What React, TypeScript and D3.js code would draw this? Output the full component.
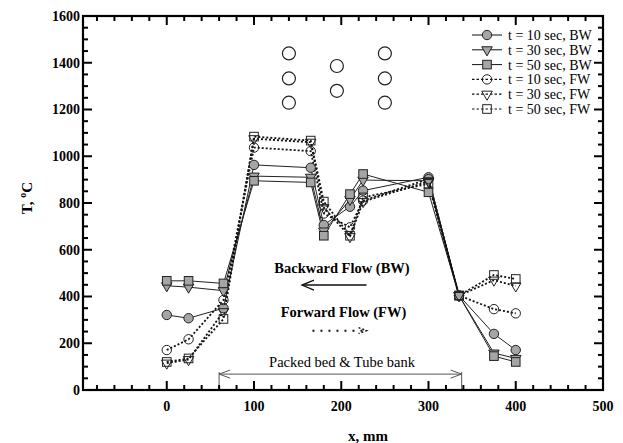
import * as d3 from 'd3'

// x positions of the thermocouples (mm)
const xPos = [0, 25, 65, 100, 165, 180, 210, 225, 300, 335, 375, 400]

// temperatures (deg C)
const bw10 = [321, 307, 350, 963, 951, 706, 784, 853, 910, 404, 240, 171]
const bw30 = [446, 440, 425, 915, 910, 680, 815, 898, 895, 404, 158, 135]
const bw50 = [467, 467, 456, 895, 888, 660, 838, 924, 846, 404, 145, 120]
const fw10 = [171, 217, 385, 1037, 1022, 755, 696, 810, 902, 404, 346, 328]
const fw30 = [115, 130, 335, 1075, 1060, 780, 656, 806, 892, 404, 470, 445]
const fw50 = [120, 135, 304, 1084, 1067, 806, 660, 824, 882, 404, 492, 475]

const seriesNames = [
  't = 10 sec, BW', 't = 30 sec, BW', 't = 50 sec, BW',
  't = 10 sec, FW', 't = 30 sec, FW', 't = 50 sec, FW',
]

// tube bank sketch (mm, deg C coords)
const tubeX = [140, 140, 140, 195, 195, 250, 250, 250]
const tubeY = [1440, 1333, 1229, 1386, 1280, 1440, 1333, 1229]

const xMajor = [0, 100, 200, 300, 400, 500]
const yMajor = [0, 200, 400, 600, 800, 1000, 1200, 1400, 1600]

const W = 623
const H = 443
const plot = { left: 83, right: 603, top: 16, bottom: 390 }

const x = d3.scaleLinear().domain([-96, 500]).range([plot.left, plot.right])
const y = d3.scaleLinear().domain([0, 1600]).range([plot.bottom, plot.top])

const xMinor = d3.range(-80, 500, 20).filter(v => v % 100 !== 0)
const yMinor = d3.range(50, 1600, 50).filter(v => v % 200 !== 0)

const GRAY = '#a5a5a5'
const font = '"Liberation Serif", "Times New Roman", serif'

type Shape = 'circle' | 'tri' | 'square'
const shapes: Shape[] = ['circle', 'tri', 'square', 'circle', 'tri', 'square']
const data = [bw10, bw30, bw50, fw10, fw30, fw50]

function marker(shape: Shape, cx: number, cy: number, filled: boolean, key?: string | number) {
  const fill = filled ? GRAY : 'none'
  const stroke = '#222'
  if (shape === 'circle') {
    return <circle key={key} cx={cx} cy={cy} r={4.7} fill={fill} stroke={stroke} strokeWidth={1} />
  }
  if (shape === 'square') {
    return <rect key={key} x={cx - 4.3} y={cy - 4.3} width={8.6} height={8.6} fill={fill} stroke={stroke} strokeWidth={1} />
  }
  const p = d3.symbol(d3.symbolTriangle, 48)() as string
  return <path key={key} d={p} transform={`translate(${cx},${cy}) rotate(180)`} fill={fill} stroke={stroke} strokeWidth={1} />
}

export default function App() {
  const line = d3.line<number>().x((_, i) => x(xPos[i])).y(d => y(d))

  // annotation anchors in data units
  const bedY = 68
  const bedA = x(60)
  const bedB = x(338)
  const bwY = y(449)
  const fwY = y(254)

  return (
    <svg width={W} height={H} style={{ position: 'absolute', left: 0, top: 0, background: '#fff' }} fontFamily={font}>
      {/* tube bank */}
      {tubeX.map((t, i) => (
        <circle key={'tb' + i} cx={x(t)} cy={y(tubeY[i])} r={6.5} fill="none" stroke="#222" strokeWidth={1.2} />
      ))}

      {/* series lines */}
      {data.map((d, s) => (
        <path key={'l' + s} d={line(d) as string} fill="none"
          stroke={s < 3 ? '#222' : '#111'}
          strokeWidth={s < 3 ? 1 : 1.8}
          strokeDasharray={s < 3 ? undefined : '2,2'} />
      ))}
      {/* series markers */}
      {data.map((d, s) => (
        <g key={'m' + s}>
          {d.map((v, i) => marker(shapes[s], x(xPos[i]), y(v), s < 3, i))}
        </g>
      ))}

      {/* legend */}
      {seriesNames.map((n, i) => {
        const ly = 35 + i * 14.8
        return (
          <g key={'lg' + i}>
            <line x1={472} x2={502} y1={ly} y2={ly} stroke="#111"
              strokeWidth={i < 3 ? 1 : 1.2} strokeDasharray={i < 3 ? undefined : '2.5,2'} />
            {marker(shapes[i], 487, ly, i < 3)}
            <text x={508} y={ly} dy="0.35em" fontSize={14}>{n}</text>
          </g>
        )
      })}

      {/* flow annotations */}
      <text x={342} y={273} textAnchor="middle" fontSize={14.5} fontWeight="bold">Backward Flow (BW)</text>
      <line x1={x(155)} x2={x(229)} y1={bwY} y2={bwY} stroke="#111" strokeWidth={1.5} />
      <path d={`M${x(155) + 12},${bwY - 5} L${x(155)},${bwY} L${x(155) + 12},${bwY + 5}`} fill="none" stroke="#111" strokeWidth={1.3} />

      <text x={343.5} y={317} textAnchor="middle" fontSize={14.5} fontWeight="bold">Forward Flow (FW)</text>
      <line x1={x(167)} x2={x(229)} y1={fwY} y2={fwY} stroke="#111" strokeWidth={2} strokeDasharray="2,6" />
      <path d={`M${x(229) - 8},${fwY - 3} L${x(229)},${fwY} L${x(229) - 8},${fwY + 3}`} fill="none" stroke="#111" strokeWidth={1.5} strokeDasharray="2,2" />

      {/* packed bed extent */}
      <text x={342} y={367} textAnchor="middle" fontSize={14.5}>Packed bed &amp; Tube bank</text>
      <line x1={bedA} x2={bedB} y1={y(bedY)} y2={y(bedY)} stroke="#555" strokeWidth={1} />
      <path d={`M${bedA + 11},${y(bedY) - 4} L${bedA},${y(bedY)} L${bedA + 11},${y(bedY) + 4}`} fill="none" stroke="#555" strokeWidth={1} />
      <path d={`M${bedB - 11},${y(bedY) - 4} L${bedB},${y(bedY)} L${bedB - 11},${y(bedY) + 4}`} fill="none" stroke="#555" strokeWidth={1} />
      <line x1={bedA} x2={bedA} y1={y(bedY) - 2} y2={plot.bottom} stroke="#555" strokeWidth={1} />
      <line x1={bedB} x2={bedB} y1={y(bedY) - 2} y2={plot.bottom} stroke="#555" strokeWidth={1} />

      {/* ticks, inward on all four sides */}
      {xMajor.map(v => (
        <g key={'xM' + v}>
          <line x1={x(v)} x2={x(v)} y1={plot.bottom} y2={plot.bottom - 9} stroke="#000" strokeWidth={2} />
          <line x1={x(v)} x2={x(v)} y1={plot.top} y2={plot.top + 9} stroke="#000" strokeWidth={2} />
          <text x={x(v)} y={411} textAnchor="middle" fontSize={14} fontWeight="bold">{v}</text>
        </g>
      ))}
      {xMinor.map(v => (
        <g key={'xm' + v}>
          <line x1={x(v)} x2={x(v)} y1={plot.bottom} y2={plot.bottom - 5} stroke="#000" strokeWidth={2} />
          <line x1={x(v)} x2={x(v)} y1={plot.top} y2={plot.top + 5} stroke="#000" strokeWidth={2} />
        </g>
      ))}
      {yMajor.map(v => (
        <g key={'yM' + v}>
          <line x1={plot.left} x2={plot.left + 9} y1={y(v)} y2={y(v)} stroke="#000" strokeWidth={2} />
          <line x1={plot.right} x2={plot.right - 9} y1={y(v)} y2={y(v)} stroke="#000" strokeWidth={2} />
          <text x={80} y={y(v)} dy="0.35em" textAnchor="end" fontSize={14} fontWeight="bold">{v}</text>
        </g>
      ))}
      {yMinor.map(v => (
        <g key={'ym' + v}>
          <line x1={plot.left} x2={plot.left + 5} y1={y(v)} y2={y(v)} stroke="#000" strokeWidth={2} />
          <line x1={plot.right} x2={plot.right - 5} y1={y(v)} y2={y(v)} stroke="#000" strokeWidth={2} />
        </g>
      ))}

      {/* frame */}
      <rect x={plot.left} y={plot.top} width={plot.right - plot.left} height={plot.bottom - plot.top}
        fill="none" stroke="#000" strokeWidth={2.2} />

      {/* axis titles */}
      <text x={368} y={441} textAnchor="middle" fontSize={15} fontWeight="bold">x, mm</text>
      <text transform="translate(32,198) rotate(-90)" textAnchor="middle" fontSize={15} fontWeight="bold">
        T, <tspan dy="-6" fontSize={10}>o</tspan><tspan dy="6">C</tspan>
      </text>
    </svg>
  )
}
